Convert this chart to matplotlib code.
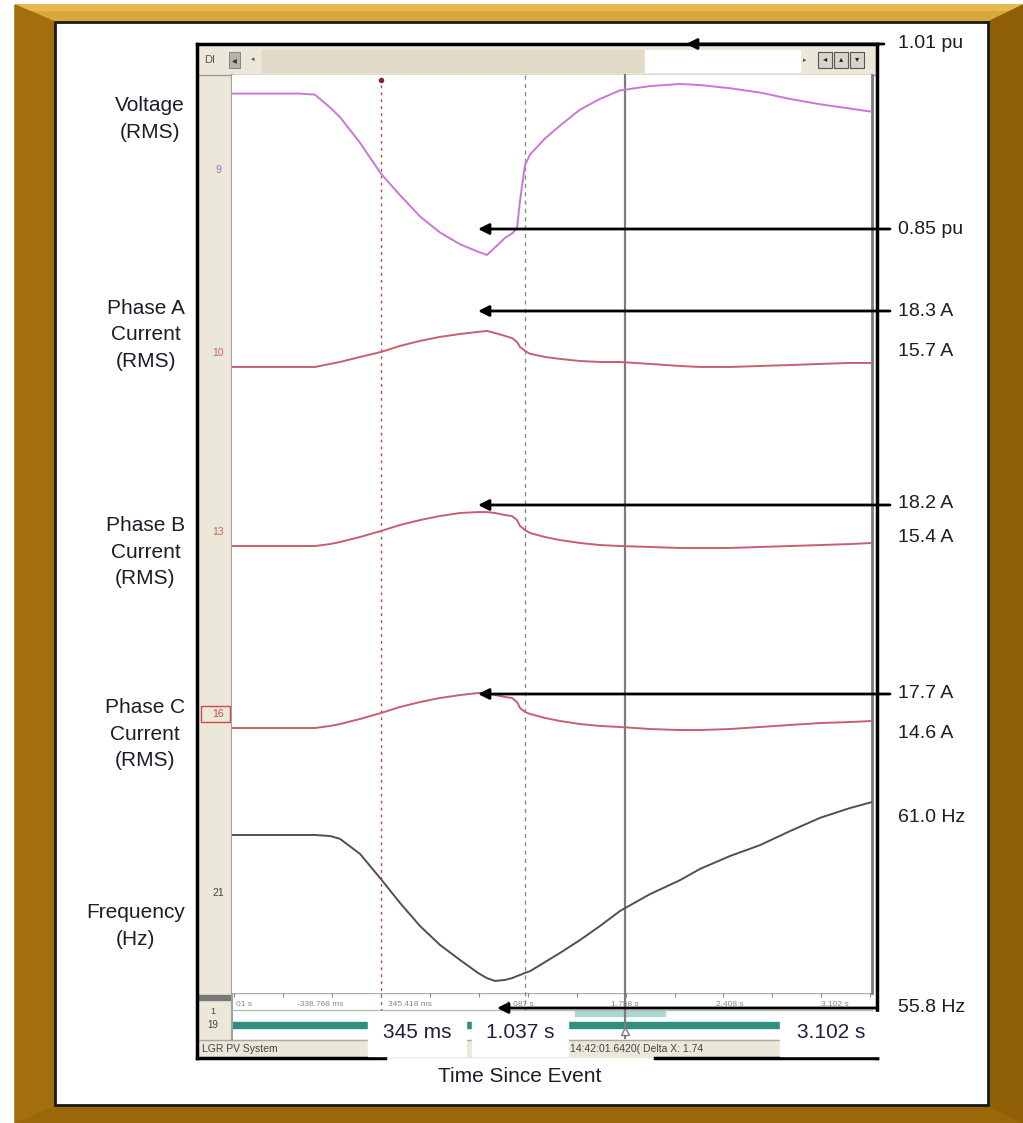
import numpy as np
import matplotlib
matplotlib.use("Agg")
import matplotlib.pyplot as plt
from matplotlib.patches import Rectangle, Polygon

plt.rcParams["font.family"] = ["Liberation Sans", "DejaVu Sans"]

W, H = 1023, 1123

# -------------------------------
# Data
# -------------------------------
time_s = [-0.927, -0.473, -0.373, -0.272, -0.206, -0.072, 0.068, 0.195, 0.329, 0.462,
          0.596, 0.716, 0.776, 0.830, 0.897, 0.943, 0.977, 0.997, 1.030, 1.064,
          1.164, 1.264, 1.398, 1.531, 1.665, 1.865, 2.066, 2.199, 2.400, 2.600,
          2.800, 3.001, 3.201, 3.348]
voltage_pu = [1.001, 1.001, 1.000, 0.988, 0.979, 0.955, 0.926, 0.906, 0.886, 0.871,
              0.860, 0.853, 0.850, 0.857, 0.866, 0.870, 0.875, 0.901, 0.934, 0.944,
              0.959, 0.971, 0.986, 0.996, 1.004, 1.008, 1.010, 1.009, 1.006, 1.002,
              0.996, 0.991, 0.987, 0.984]
phase_a = [15.70, 15.70, 15.70, 15.92, 16.06, 16.42, 16.78, 17.22, 17.58, 17.87,
           18.08, 18.23, 18.30, 18.15, 17.94, 17.79, 17.51, 17.14, 16.86, 16.65,
           16.42, 16.28, 16.13, 16.06, 16.06, 15.92, 15.77, 15.70, 15.70, 15.77,
           15.84, 15.92, 15.99, 15.99]
phase_b = [15.40, 15.40, 15.40, 15.56, 15.73, 16.14, 16.64, 17.13, 17.54, 17.87,
           18.12, 18.20, 18.20, 18.12, 17.95, 17.87, 17.54, 17.05, 16.72, 16.47,
           16.14, 15.89, 15.65, 15.48, 15.40, 15.32, 15.24, 15.24, 15.24, 15.32,
           15.40, 15.48, 15.56, 15.65]
phase_c = [14.60, 14.60, 14.60, 14.78, 14.95, 15.40, 15.93, 16.46, 16.90, 17.26,
           17.52, 17.70, 17.70, 17.52, 17.35, 17.26, 16.90, 16.37, 16.02, 15.84,
           15.49, 15.22, 14.95, 14.78, 14.69, 14.51, 14.42, 14.42, 14.51, 14.69,
           14.87, 15.04, 15.13, 15.22]
freq_hz = [60.00, 60.00, 60.00, 59.97, 59.89, 59.46, 58.74, 58.06, 57.40, 56.86,
           56.43, 56.06, 55.91, 55.83, 55.86, 55.91, 55.97, 56.00, 56.06, 56.11,
           56.37, 56.63, 57.00, 57.40, 57.83, 58.31, 58.71, 59.03, 59.40, 59.71,
           60.11, 60.49, 60.77, 60.94]

# cursors (s)
cursor_red = 0.068
cursor_dash = 1.030
cursor_solid = 1.698

# time axis labels of the recorder
tick_label_t = [-0.339, 0.262, 0.997, 1.698, 2.400, 3.101]
tick_label_txt = ["-338.768 ms", "345.418 ms", "1.087 s", "1.758 s", "2.408 s", "3.102 s"]

# callouts
callout_txt = ["1.01 pu", "0.85 pu", "18.3 A", "15.7 A", "18.2 A", "15.4 A",
               "17.7 A", "14.6 A", "61.0 Hz", "55.8 Hz"]
callout_y = [44, 229, 311, 351, 504, 538, 694, 734, 818, 1008]
arrow_y = [44, 229, 311, 505, 694, 1008]
arrow_tip = [686, 478, 478, 478, 478, 497]
arrow_tail = [884, 890, 890, 890, 890, 877]

trace_names = ["Voltage\n(RMS)", "Phase A\nCurrent\n(RMS)", "Phase B\nCurrent\n(RMS)",
               "Phase C\nCurrent\n(RMS)", "Frequency\n(Hz)"]
trace_label_y = [119, 335, 552, 734, 926]
gutter_num = ["9", "10", "13", "16", "21"]
gutter_y = [170, 353, 532, 714, 893]
gutter_col = ["#a468c8", "#c86464", "#c86464", "#c84848", "#444444"]

TXT = "#1c1c2a"


def px_rect(x0, y0, x1, y1):
    return [x0 / W, 1 - y1 / H, (x1 - x0) / W, (y1 - y0) / H]


fig = plt.figure(figsize=(W / 100, H / 100), dpi=100)
fig.patch.set_facecolor("white")

# -------------------------------
# Background: frame, window chrome
# -------------------------------
bg = fig.add_axes([0, 0, 1, 1])
bg.set_xlim(0, W)
bg.set_ylim(H, 0)
bg.axis("off")
bg.set_zorder(0)

bg.add_patch(Rectangle((15, 5), W - 15, H - 5, color="#9a6808"))
bg.add_patch(Polygon([(15, 5), (W, 5), (W - 30, 22), (55, 22)], color="#d9a73a"))
bg.add_patch(Rectangle((15, 5), W - 15, 5, color="#e6b94e"))
bg.add_patch(Polygon([(15, 5), (55, 22), (55, 1105), (15, H)], color="#a36e0c"))
bg.add_patch(Polygon([(988, 22), (W, 5), (W, H), (988, 1105)], color="#8e5f04"))
bg.add_patch(Rectangle((55, 22), 933, 1083, facecolor="white", edgecolor="#1a1a1a", lw=2))

# toolbar
bg.add_patch(Rectangle((198, 45), 678, 30, color="#ebe7d9"))
bg.text(204, 60, "DI", fontsize=8, color="#555555", va="center")
bg.add_patch(Rectangle((229, 52), 11, 16, facecolor="#b4b4ac", edgecolor="#777777", lw=0.6))
bg.text(234.5, 60, "\u25c2", fontsize=7, color="#333333", ha="center", va="center")
bg.text(253, 60, "\u25c2", fontsize=5, color="#555555", ha="center", va="center")
bg.add_patch(Rectangle((262, 50), 538, 22, color="#dfdbc8"))
bg.add_patch(Rectangle((645, 50), 155, 22, color="white"))
bg.text(805, 61, "\u25b8", fontsize=5, color="#555555", ha="center", va="center")
for bx, sym in zip([818, 834, 850], ["\u25c2", "\u25b4", "\u25be"]):
    bg.add_patch(Rectangle((bx, 52), 14, 16, facecolor="#d6d4cc", edgecolor="#555555", lw=0.8))
    bg.text(bx + 7, 60, sym, fontsize=6, color="#222222", ha="center", va="center")
bg.plot([198, 876], [75, 75], color="#9a9a9a", lw=1)

# left gutter
bg.add_patch(Rectangle((198, 75), 34, 965, color="#ebe7d9"))
bg.plot([232, 232], [75, 1040], color="#a0a0a0", lw=1.5)
for txt, yy, col in zip(gutter_num, gutter_y, gutter_col):
    bg.text(218, yy, txt, fontsize=7.5, color=col, ha="center", va="center")
bg.add_patch(Rectangle((201, 706), 29, 16, facecolor="none", edgecolor="#d04848", lw=1))
bg.add_patch(Rectangle((198, 995), 34, 5, color="#7a7a7a"))
bg.text(213, 1012, "1", fontsize=6.5, color="#444444", ha="center", va="center")
bg.text(213, 1025, "19", fontsize=7, color="#444444", ha="center", va="center")

# strip under the plot
bg.add_patch(Rectangle((232, 993), 640, 47, color="white"))
bg.plot([232, 872], [993, 993], color="#b0b0b0", lw=1)
bg.plot([232, 872], [1010, 1010], color="#b8b8b8", lw=1)
bg.add_patch(Rectangle((232, 1022), 640, 6, color="#2f8f80"))
bg.add_patch(Rectangle((575, 1011), 90, 5, color="#a8d8d0"))

# status bar
bg.add_patch(Rectangle((198, 1040), 678, 17, color="#ebe7d9"))
bg.plot([198, 876], [1040, 1040], color="#a8a8a8", lw=1)
bg.text(202, 1049, "LGR PV System", fontsize=7.5, color="#444444", va="center")
bg.text(570, 1049, "14:42:01.6420( Delta X: 1.74", fontsize=7.5, color="#444444", va="center")

# chart window border
bg.plot([197, 877], [44, 44], color="black", lw=2.5)
bg.plot([197, 197], [44, 1058], color="black", lw=2.5)
bg.plot([877, 877], [44, 1058], color="black", lw=2.5)
bg.plot([197, 385], [1058, 1058], color="black", lw=2.5)
bg.plot([655, 877], [1058, 1058], color="black", lw=2.5)

# -------------------------------
# Traces, each on its own scale
# -------------------------------
plot_box = px_rect(232, 75, 872, 993)
tmin, tmax = time_s[0], time_s[-1]
traces = [
    (voltage_pu, (0.1592, 1.0184), "#c878d4"),
    (phase_a, (-29.50, 36.78), "#c95f6e"),
    (phase_b, (-21.43, 54.21), "#c95f6e"),
    (phase_c, (-8.88, 72.46), "#c95f6e"),
    (freq_hz, (55.486, 81.71), "#505050"),
]

main = fig.add_axes(plot_box)
main.set_zorder(1)
main.set_xlim(tmin, tmax)
main.set_ylim(0, 1)
main.set_xticks([])
main.set_yticks([])
for side in ["top", "left", "bottom"]:
    main.spines[side].set_visible(False)
main.spines["right"].set_color("#7a7a7a")
main.spines["right"].set_linewidth(2)

xt = main.get_xaxis_transform()
frac = lambda py: (993 - py) / 918.0
main.plot([cursor_red, cursor_red], [frac(78), frac(1010)], transform=xt,
          color="#c04848", lw=1, ls=(0, (2, 3)), clip_on=False)
main.plot([cursor_red], [frac(80)], transform=xt, marker="o", ms=3,
          color="#7a2a2a", clip_on=False)
main.plot([cursor_dash, cursor_dash], [frac(75), frac(1010)], transform=xt,
          color="#8c8c8c", lw=1, ls=(0, (3, 3)), clip_on=False)
main.plot([cursor_solid, cursor_solid], [frac(75), frac(1038)], transform=xt,
          color="#7c7c7c", lw=1.6, clip_on=False)
main.plot([cursor_solid], [frac(1031)], transform=xt, marker="^", ms=6,
          mfc="white", mec="#7c7c7c", clip_on=False)

for values, (lo, hi), col in traces:
    ax = fig.add_axes(plot_box)
    ax.set_zorder(2)
    ax.patch.set_alpha(0)
    ax.set_xlim(tmin, tmax)
    ax.set_ylim(lo, hi)
    ax.axis("off")
    ax.plot(time_s, values, color=col, lw=1.4, solid_joinstyle="round")

# recorder time ruler
ruler = fig.add_axes(px_rect(232, 993, 872, 1010))
ruler.set_zorder(1)
ruler.patch.set_alpha(0)
ruler.set_xlim(tmin, tmax)
ruler.set_ylim(0, 1)
ruler.set_yticks([])
ruler.set_xticks(np.arange(-0.914, tmax, 0.327))
ruler.tick_params(axis="x", direction="in", top=True, bottom=False, length=3,
                  color="#888888", labelbottom=False)
for s in ruler.spines.values():
    s.set_visible(False)
ruler.text(tmin + 0.03, 0.35, "01 s", fontsize=6, color="#8a8a8a", va="center")
for t, lab in zip(tick_label_t, tick_label_txt):
    ruler.text(t, 0.35, lab, fontsize=6, color="#8a8a8a", ha="center", va="center")

# -------------------------------
# Overlay: callouts and labels
# -------------------------------
ov = fig.add_axes([0, 0, 1, 1])
ov.set_xlim(0, W)
ov.set_ylim(H, 0)
ov.axis("off")
ov.patch.set_alpha(0)
ov.set_zorder(5)

for name, yy in zip(trace_names, trace_label_y):
    ov.text(185, yy, name, fontsize=15, color=TXT, ha="right", va="center",
            multialignment="center", linespacing=1.5)

for ty, tip, tail in zip(arrow_y, arrow_tip, arrow_tail):
    ov.annotate("", xy=(tip, ty), xytext=(tail, ty),
                arrowprops=dict(arrowstyle="-|>", color="black", lw=2,
                                mutation_scale=16, shrinkA=0, shrinkB=0))

for txt, yy in zip(callout_txt, callout_y):
    ov.text(898, yy, txt, fontsize=14, color=TXT, ha="left", va="center")

for (x0, x1), lab in zip([(368, 466), (472, 568), (780, 882)],
                         ["345 ms", "1.037 s", "3.102 s"]):
    ov.add_patch(Rectangle((x0, 1012), x1 - x0, 44, color="white"))
    ov.text((x0 + x1) / 2, 1032, lab, fontsize=15, color="#20203c",
            ha="center", va="center")

ov.text(520, 1077, "Time Since Event", fontsize=15, color=TXT, ha="center", va="center")

fig.savefig("out.png", dpi=100)
